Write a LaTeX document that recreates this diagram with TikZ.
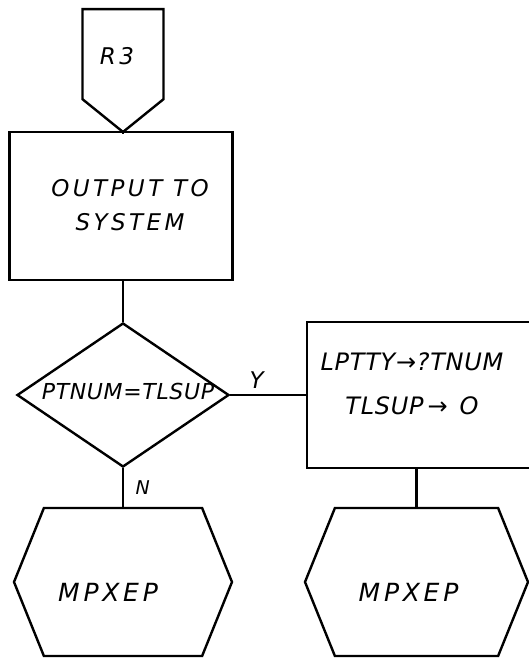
\documentclass[tikz,border=0pt]{standalone}
\usepackage{fontspec}
\usetikzlibrary{shapes.geometric,shapes.symbols}
\newfontfamily\hand[LetterSpace=15]{DejaVu Sans}
\newfontfamily\handnarrow[LetterSpace=3]{DejaVu Sans}
\tikzset{
  flow/.style={draw, line width=2.4pt, inner sep=0pt},
  txt/.style={font=\hand\itshape\fontsize{23}{34}\selectfont, align=center},
  connector/.style={flow, signal, signal to=south, signal pointer angle=102,
    minimum width=81pt, minimum height=90pt},
  procbox/.style={flow, rectangle},
  decision/.style={flow, diamond},
  exitbox/.style={flow, signal, signal to=east and west,
    signal pointer angle=136, minimum height=148pt},
  link/.style={line width=2.4pt}
}
\begin{document}
\begin{tikzpicture}[x=1pt, y=-1pt]
    \useasboundingbox (0,0) rectangle (529,660);
    % entry connector and first step
    \node[connector, anchor=north, label={[txt, xshift=-6pt, yshift=-2pt]center:R3}] (r3) at (123,8) {};
    \node[procbox, minimum width=223pt, minimum height=148pt,
      label={[txt, xshift=9pt, yshift=1pt]center:OUTPUT TO\\SYSTEM}] (out) at (121,206) {};
    % test
    \node[decision, minimum width=212pt, minimum height=144pt,
      label={[txt, font=\handnarrow\itshape\fontsize{22}{24}\selectfont, xshift=5pt, yshift=4pt]center:PTNUM=TLSUP}] (test) at (123,395) {};
    \node[procbox, minimum width=226pt, minimum height=146pt,
      label={[txt, font=\handnarrow\itshape\fontsize{24}{44}\selectfont, xshift=-8pt, yshift=11pt]center:LPTTY→?TNUM\\TLSUP\,→\enspace O}] (reset) at (420,395) {};
    % exits
    \node[exitbox, minimum width=218pt,
      label={[txt, font=\hand\itshape\fontsize{25}{28}\selectfont, xshift=-15pt, yshift=-10pt]center:MPXEP}] (exitn) at (123,582) {};
    \node[exitbox, minimum width=223pt,
      label={[txt, font=\hand\itshape\fontsize{25}{28}\selectfont, xshift=-8pt, yshift=-10pt]center:MPXEP}] (exity) at (416.5,582) {};
    % connectors
    \draw[link] (r3.south) -- (r3.south |- out.north);
    \draw[link] (test.north |- out.south) -- (test.north);
    \draw[link] (test.east) -- node[txt, above=2pt, pos=0.35] {Y} (reset.west);
    \draw[link] (test.south) -- node[txt, right=8pt, font=\hand\itshape\fontsize{19}{20}\selectfont] {N} (exitn.north);
    \draw[link] (exity.north |- reset.south) -- (exity.north);
\end{tikzpicture}
\end{document}
